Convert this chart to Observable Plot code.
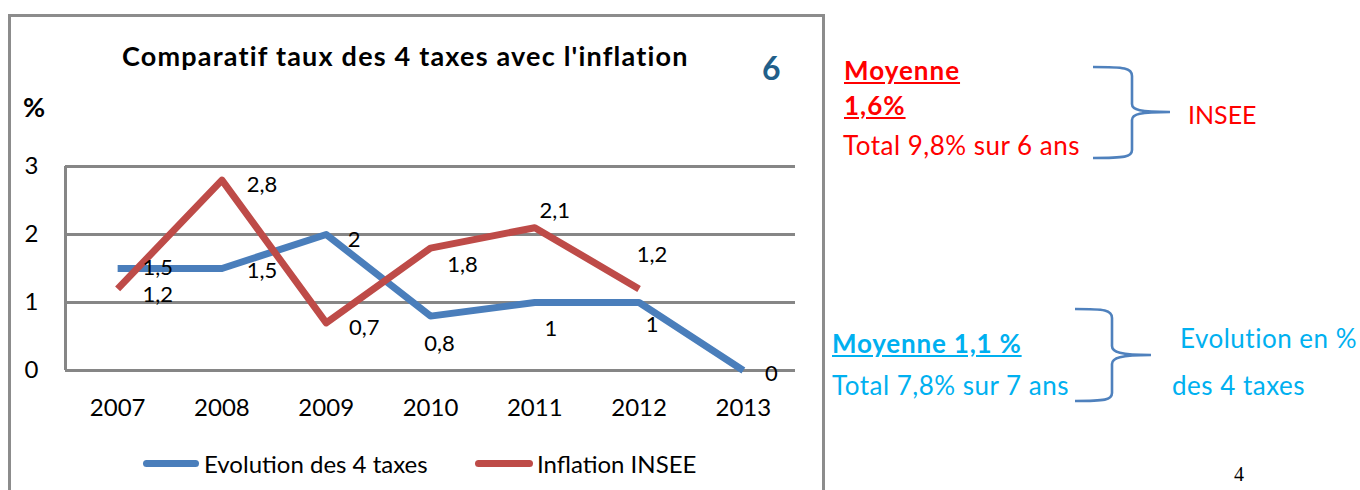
<!DOCTYPE html>
<html><head><meta charset="utf-8">
<script src="https://cdn.jsdelivr.net/npm/d3@7"></script>
<script src="https://cdn.jsdelivr.net/npm/@observablehq/plot@0.6"></script>
<style>
html,body{margin:0;padding:0;background:#fff;}
#wrap{position:relative;width:1360px;height:490px;overflow:hidden;font-family:Lato,"Open Sans",sans-serif;}
#box{position:absolute;left:8px;top:14px;width:811px;height:500px;border:3px solid #8c8c8c;border-bottom:none;}
#chart{position:absolute;left:0;top:0;}
.t{position:absolute;white-space:nowrap;line-height:1;}
.sw{position:absolute;height:7px;border-radius:4px;}
</style></head>
<body>
<div id="wrap">
  <div id="box"></div>
  <div id="chart"></div>
  <div class="t" style="left:122px;top:42px;font-size:27px;font-weight:bold;letter-spacing:1.2px;color:#000;">Comparatif taux des 4 taxes avec l'inflation</div>
  <div class="t" style="left:762px;top:52px;font-size:32px;font-weight:bold;color:#215F8A;">6</div>
  <div class="t" style="left:23px;top:93px;font-size:27px;font-weight:bold;color:#000;">%</div>

  <div class="sw" style="left:143px;top:460px;width:56px;background:#4A7EBB;"></div>
  <div class="t" style="left:204px;top:452px;font-size:24px;color:#000;">Evolution des 4 taxes</div>
  <div class="sw" style="left:475px;top:460px;width:58px;background:#BE4B48;"></div>
  <div class="t" style="left:537px;top:452px;font-size:24px;color:#000;">Inflation INSEE</div>

  <div class="t" style="left:844px;top:57px;font-size:26px;font-weight:bold;letter-spacing:1px;color:#FF0000;text-decoration:underline;">Moyenne</div>
  <div class="t" style="left:844px;top:92px;font-size:26px;font-weight:bold;letter-spacing:1px;color:#FF0000;text-decoration:underline;">1,6%</div>
  <div class="t" style="left:843px;top:132px;font-size:26px;letter-spacing:0.5px;color:#FF0000;">Total 9,8% sur 6 ans</div>
  <div class="t" style="left:1188px;top:102px;font-size:25px;color:#FF0000;">INSEE</div>

  <div class="t" style="left:832px;top:330px;font-size:26px;font-weight:bold;letter-spacing:0.8px;color:#00B0F0;text-decoration:underline;">Moyenne 1,1 %</div>
  <div class="t" style="left:832px;top:372px;font-size:26px;letter-spacing:0.5px;color:#00B0F0;">Total 7,8% sur 7 ans</div>
  <div class="t" style="left:1180px;top:325px;font-size:26px;letter-spacing:0.5px;color:#00B0F0;">Evolution en %</div>
  <div class="t" style="left:1172px;top:372px;font-size:26px;letter-spacing:0.5px;color:#00B0F0;">des 4 taxes</div>
  <div class="t" style="left:1234px;top:464px;font-size:20px;color:#000;font-family:'Liberation Serif',serif;">4</div>

  <svg style="position:absolute;left:0;top:0;" width="1360" height="490">
    <path d="M1093,67 C1125,67 1132,68 1132,76 L1132,104 C1132,110 1140,112 1170,112 C1140,112 1132,114 1132,120 L1132,150 C1132,157 1125,158 1093,158" fill="none" stroke="#4F81BD" stroke-width="2.6"/>
    <path d="M1075,309 C1105,309 1112,310 1112,318 L1112,346 C1112,352 1120,355 1151,355 C1120,355 1112,358 1112,364 L1112,393 C1112,400 1105,401 1075,401" fill="none" stroke="#4F81BD" stroke-width="2.6"/>
  </svg>
</div>
<script>
// ---- data ----
const years = [2007, 2008, 2009, 2010, 2011, 2012, 2013];
const taxes = [1.5, 1.5, 2, 0.8, 1, 1, 0];          // Evolution des 4 taxes
const inflationYears = [2007, 2008, 2009, 2010, 2011, 2012];
const inflation = [1.2, 2.8, 0.7, 1.8, 2.1, 1.2];   // Inflation INSEE
const yTicks = [0, 1, 2, 3];
// label nudges (pixels) for each data label, as placed in the original
const taxesNudge = [[40,-1],[40,2],[28,5],[9,28],[16,26],[13,22],[28,3]];
const inflationNudge = [[40,6],[40,5],[38,5],[32,17],[20,-17],[13,-34]];

const fr = d => String(d).replace(".", ",");
const taxesData = years.map((y, i) => ({year: y, value: taxes[i]}));
const inflData = inflationYears.map((y, i) => ({year: y, value: inflation[i]}));

const labelMarks = [];
taxesData.forEach((d, i) => labelMarks.push(Plot.text([d], {x: "year", y: "value", text: d => fr(d.value), dx: taxesNudge[i][0], dy: taxesNudge[i][1], fontSize: 22, fill: "#000"})));
inflData.forEach((d, i) => labelMarks.push(Plot.text([d], {x: "year", y: "value", text: d => fr(d.value), dx: inflationNudge[i][0], dy: inflationNudge[i][1], fontSize: 22, fill: "#000"})));

const chart = Plot.plot({
  width: 820,
  height: 490,
  marginLeft: 65,
  marginRight: 25,
  marginTop: 166,
  marginBottom: 120,
  style: {fontFamily: "Lato, 'Open Sans', sans-serif", fontSize: "24px", background: "transparent", color: "#000"},
  x: {domain: [2006.5, 2013.5], ticks: years, tickFormat: d => String(d), tickSize: 0, tickPadding: 28, label: null},
  y: {domain: [0, 3], ticks: yTicks, tickFormat: d => String(d), tickSize: 0, tickPadding: 27, label: null},
  marks: [
    Plot.ruleY(yTicks, {stroke: "#868686", strokeWidth: 3}),
    Plot.ruleX([2006.5], {y1: 0, y2: 3, stroke: "#868686", strokeWidth: 3}),
    Plot.line(taxesData, {x: "year", y: "value", stroke: "#4A7EBB", strokeWidth: 7, strokeLinejoin: "round", strokeLinecap: "butt"}),
    Plot.line(inflData, {x: "year", y: "value", stroke: "#BE4B48", strokeWidth: 7, strokeLinejoin: "round", strokeLinecap: "butt"}),
    ...labelMarks
  ]
});
document.getElementById("chart").appendChild(chart);
</script>
</body></html>
